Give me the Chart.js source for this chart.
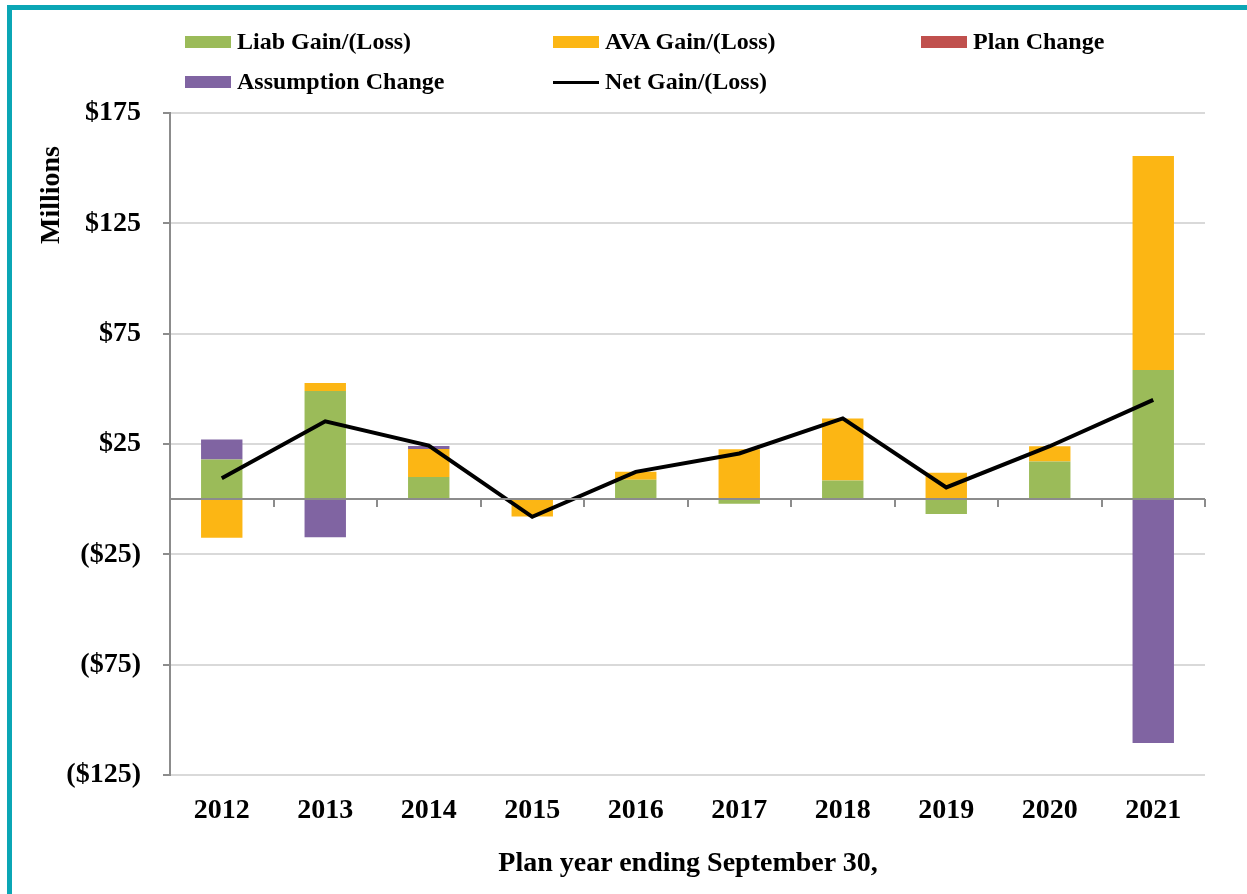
<!DOCTYPE html>
<html>
<head>
<meta charset="utf-8">
<script src="https://cdn.jsdelivr.net/npm/chart.js@4.4.0/dist/chart.umd.min.js"></script>
<style>
  body { margin: 0; background: #fff; font-family: "Liberation Serif", "Times New Roman", serif; }
  #wrap { position: relative; width: 1247px; height: 894px; overflow: hidden; }
  #frame { position: absolute; left: 7px; top: 5px; width: 1300px; height: 1000px;
           border-left: 5px solid #0BA6B5; border-top: 5px solid #0BA6B5; }
  #chart { position: absolute; left: 0; top: 0; }
  .lg { position: absolute; font-weight: bold; font-size: 24px; line-height: 24px; color: #000; white-space: nowrap; }
  .sw { position: absolute; width: 46px; height: 12px; }
  .ln { position: absolute; width: 46px; height: 3px; background: #000; }
  #ytitle { position: absolute; left: 50px; top: 195px; font-weight: bold; font-size: 28px;
            transform: translate(-50%, -50%) rotate(-90deg); white-space: nowrap; }
  #xtitle { position: absolute; left: 688px; top: 862px; font-weight: bold; font-size: 28px;
            transform: translate(-50%, -50%); white-space: nowrap; }
</style>
</head>
<body>
<div id="wrap">
  <div id="frame"></div>
  <canvas id="chart" width="1247" height="894"></canvas>
  <div id="legend"></div>
  <div id="ytitle">Millions</div>
  <div id="xtitle">Plan year ending September 30,</div>
</div>
<script>
// plan years
const years = ['2012', '2013', '2014', '2015', '2016', '2017', '2018', '2019', '2020', '2021'];

// values in $ millions
const liabGain = [18, 49, 10.1, 0, 8.8, -2.1, 8.5, -6.7, 17.1, 58.5];
const avaGain = [-17.5, 3.6, 12.6, -7.8, 3.6, 22.6, 28.1, 12, 6.9, 97];
const planChange = [0, 0, 0, 0, 0, 0, 0, 0, 0, 0];
const assumptionChange = [9, -17.3, 1.4, 0, 0, 0, 0, 0, 0, -110.5];
const netGain = [9.5, 35.3, 24.3, -8, 12.4, 20.7, 36.6, 5.3, 24, 45];

const yTicks = [-125, -75, -25, 25, 75, 125, 175];

const GREEN = '#9BBB59', ORANGE = '#FCB614', RED = '#C0504D', PURPLE = '#8064A2';
const AXIS = '#8C8C8C', GRID = '#D9D9D9';
const FONT = '"Liberation Serif", "Times New Roman", serif';

// legend laid out like the original (3 columns, 2 rows)
const legendItems = [
  { label: 'Liab Gain/(Loss)', color: GREEN, x: 185, y: 42 },
  { label: 'AVA Gain/(Loss)', color: ORANGE, x: 553, y: 42 },
  { label: 'Plan Change', color: RED, x: 921, y: 42 },
  { label: 'Assumption Change', color: PURPLE, x: 185, y: 82 },
  { label: 'Net Gain/(Loss)', line: true, x: 553, y: 82 }
];
const legendEl = document.getElementById('legend');
legendItems.forEach(it => {
  const mark = document.createElement('div');
  if (it.line) {
    mark.className = 'ln';
    mark.style.left = it.x + 'px';
    mark.style.top = (it.y - 1) + 'px';
  } else {
    mark.className = 'sw';
    mark.style.left = it.x + 'px';
    mark.style.top = (it.y - 6) + 'px';
    mark.style.background = it.color;
  }
  legendEl.appendChild(mark);
  const txt = document.createElement('div');
  txt.className = 'lg';
  txt.textContent = it.label;
  txt.style.left = (it.x + 52) + 'px';
  txt.style.top = (it.y - 13) + 'px';
  legendEl.appendChild(txt);
});

// zero line with category tick marks hanging below it
const zeroLine = {
  id: 'zeroLine',
  afterDatasetsDraw(chart) {
    const { ctx, chartArea, scales } = chart;
    const y0 = Math.round(scales.y.getPixelForValue(0));
    const step = (chartArea.right - chartArea.left) / years.length;
    ctx.save();
    ctx.strokeStyle = AXIS;
    ctx.lineWidth = 2;
    ctx.beginPath();
    ctx.moveTo(chartArea.left, y0);
    ctx.lineTo(chartArea.right, y0);
    for (let i = 1; i <= years.length; i++) {
      const x = Math.round(chartArea.left + i * step);
      ctx.moveTo(x, y0);
      ctx.lineTo(x, y0 + 8);
    }
    ctx.stroke();
    ctx.restore();
  }
};

const barDs = (label, data, color) => ({
  type: 'bar', label, data, backgroundColor: color, borderWidth: 0,
  stack: 'parts', barPercentage: 0.4, categoryPercentage: 1.0, order: 2
});

new Chart(document.getElementById('chart'), {
  data: {
    labels: years,
    datasets: [
      {
        type: 'line', label: 'Net Gain/(Loss)', data: netGain, stack: 'net',
        borderColor: '#000', borderWidth: 4, pointRadius: 0, tension: 0, fill: false, order: 0
      },
      barDs('Liab Gain/(Loss)', liabGain, GREEN),
      barDs('AVA Gain/(Loss)', avaGain, ORANGE),
      barDs('Plan Change', planChange, RED),
      barDs('Assumption Change', assumptionChange, PURPLE)
    ]
  },
  options: {
    responsive: false,
    animation: false,
    layout: { padding: { top: 113, right: 42, bottom: 0, left: 0 } },
    plugins: { legend: { display: false }, tooltip: { enabled: false } },
    scales: {
      x: {
        stacked: true,
        grid: { display: false },
        border: { display: false },
        ticks: { color: '#000', padding: 11, font: { family: FONT, size: 28, weight: 'bold' } },
        afterFit(scale) { scale.height = 119; }
      },
      y: {
        stacked: true,
        min: -125, max: 175,
        afterBuildTicks(scale) { scale.ticks = yTicks.map(v => ({ value: v })); },
        grid: { color: GRID, lineWidth: 2, tickColor: AXIS, tickLength: 7 },
        border: { color: AXIS, width: 2 },
        ticks: {
          color: '#000', padding: 22,
          font: { family: FONT, size: 28, weight: 'bold' },
          callback: v => v < 0 ? '($' + (-v) + ')' : '$' + v
        },
        afterFit(scale) { scale.width = 170; }
      }
    }
  },
  plugins: [zeroLine]
});
</script>
</body>
</html>
